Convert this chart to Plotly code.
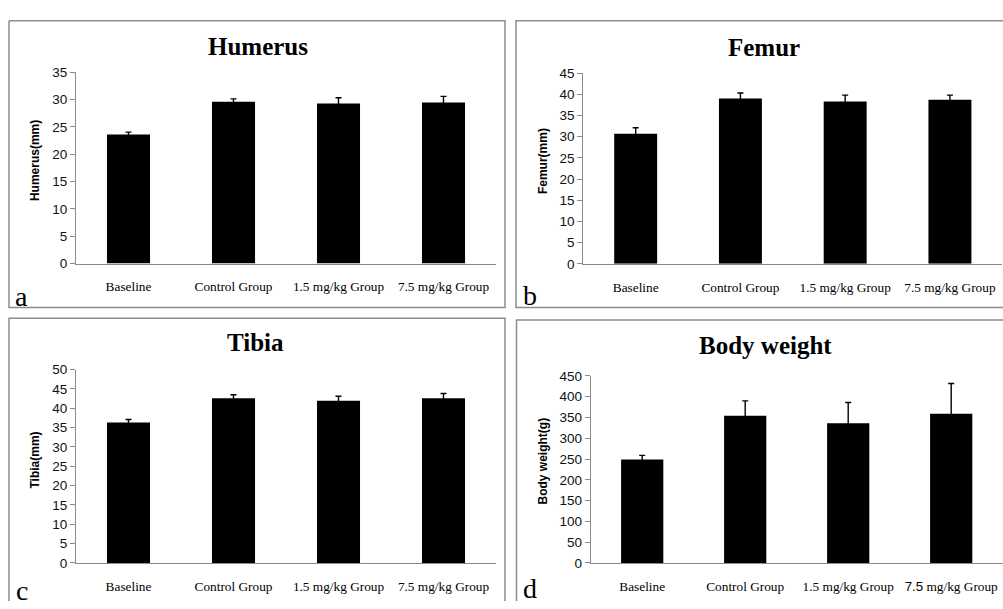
import plotly.graph_objects as go

W, H = 1003, 609

categories = ["Baseline", "Control Group", "1.5 mg/kg Group", "7.5 mg/kg Group"]
ticktext_d = ["Baseline", "Control Group", "1.5 mg/kg Group",
              "<span style='font-family:Liberation Sans'>7.5</span> mg/kg Group"]

humerus = [23.6, 29.6, 29.3, 29.5]
humerus_err = [0.45, 0.55, 1.05, 1.1]
femur = [30.7, 39.0, 38.3, 38.7]
femur_err = [1.4, 1.3, 1.5, 1.1]
tibia = [36.3, 42.6, 41.9, 42.6]
tibia_err = [0.8, 0.9, 1.2, 1.2]
body = [249, 354, 336, 359]
body_err = [10, 36, 50, 73]

titles = ["Humerus", "Femur", "Tibia", "Body weight"]
ytitles = ["Humerus(mm)", "Femur(mm)", "Tibia(mm)", "Body weight(g)"]
yranges = [[0, 35], [0, 45], [0, 50], [0, 450]]
ydticks = [5, 5, 5, 50]
letters = ["a", "b", "c", "d"]


def px(x):
    return x / W


def py(y):
    return 1 - y / H


# plot-area pixel boxes: (x0, x1, ytop, ybottom)
boxes = [(76, 496, 67, 263), (583.3, 1002.3, 67.7, 263.3),
         (76, 496, 371.7, 570), (590.7, 1002.7, 378.3, 570)]
values = [humerus, femur, tibia, body]
errors = [humerus_err, femur_err, tibia_err, body_err]

fig = go.Figure()
layout = dict(
    width=W, height=H, margin=dict(l=0, r=0, t=0, b=0),
    paper_bgcolor="white", plot_bgcolor="white", showlegend=False,
    bargap=0.59,
)

annotations = []
shapes = []

for i in range(4):
    sfx = "" if i == 0 else str(i + 1)
    x0, x1, yt, yb = boxes[i]
    fig.add_trace(go.Bar(
        x=categories, y=values[i], xaxis="x" + sfx, yaxis="y" + sfx,
        marker=dict(color="black", line=dict(width=0)),
        error_y=dict(type="data", array=errors[i], visible=True,
                     color="black", thickness=1.4, width=3),
    ))
    layout["xaxis" + sfx] = dict(
        domain=[px(x0), px(x1)], anchor="y" + sfx,
        showline=True, linecolor="#8a8a8a", linewidth=1,
        ticks="", showgrid=False, zeroline=False,
        tickmode="array", tickvals=categories,
        ticktext=ticktext_d if i == 3 else categories,
        tickfont=dict(family="Liberation Serif", size=13.3, color="black"),
        ticklabelstandoff=11, tickangle=0,
    )
    layout["yaxis" + sfx] = dict(
        domain=[py(yb), py(yt)], anchor="x" + sfx,
        range=yranges[i], dtick=ydticks[i], tick0=0,
        showline=True, linecolor="#8a8a8a", linewidth=1,
        ticks="outside", ticklen=5, tickcolor="#8a8a8a",
        showgrid=False, zeroline=False,
        tickfont=dict(family="Liberation Sans", size=13.5, color="#111111"),
    )

# titles
title_pos = [(258, 40), (764, 42), (256, 344), (765, 347)]
ytitle_pos = [(35, 158), (543, 158), (35, 465), (543, 466)]
letter_pos = [(13, 297), (521, 296), (14, 598), (521, 596)]
for i in range(4):
    tx, ty = title_pos[i]
    annotations.append(dict(
        x=px(tx), y=py(ty), xref="paper", yref="paper", showarrow=False,
        text="<b>%s</b>" % titles[i], xanchor="center", yanchor="middle",
        font=dict(family="Liberation Serif", size=25, color="black")))
    ax, ay = ytitle_pos[i]
    annotations.append(dict(
        x=px(ax), y=py(ay), xref="paper", yref="paper", showarrow=False,
        text="<b>%s</b>" % ytitles[i], textangle=-90,
        xanchor="center", yanchor="middle",
        font=dict(family="Liberation Sans", size=12, color="black")))
    lx, ly = letter_pos[i]
    annotations.append(dict(
        x=px(lx), y=py(ly), xref="paper", yref="paper", showarrow=False,
        text=letters[i], xanchor="left", yanchor="middle",
        font=dict(family="Liberation Serif", size=28, color="black")))


# panel borders as open paths (parts beyond the picture are not drawn)
def path(points):
    return "M " + " L ".join("%f,%f" % (px(x), py(y)) for x, y in points)


border_paths = [
    [(9, 14), (505, 14), (505, 308), (9, 308), (9, 14)],      # a
    [(1003, 14), (516, 14), (516, 308), (1003, 308)],         # b
    [(9, 609), (9, 319), (505, 319), (505, 609)],             # c
    [(516.5, 609), (516.5, 321), (1003, 321)],                # d
]
for pts in border_paths:
    shapes.append(dict(type="path", xref="paper", yref="paper",
                       path=path(pts),
                       line=dict(color="#8c8c8c", width=1.5), layer="below"))

layout["annotations"] = annotations
layout["shapes"] = shapes
fig.update_layout(**layout)
fig.write_html(
    "out.html",
    config={"displayModeBar": False},
    post_script="document.body.style.margin='0';"
                "document.body.style.overflow='hidden';",
)
